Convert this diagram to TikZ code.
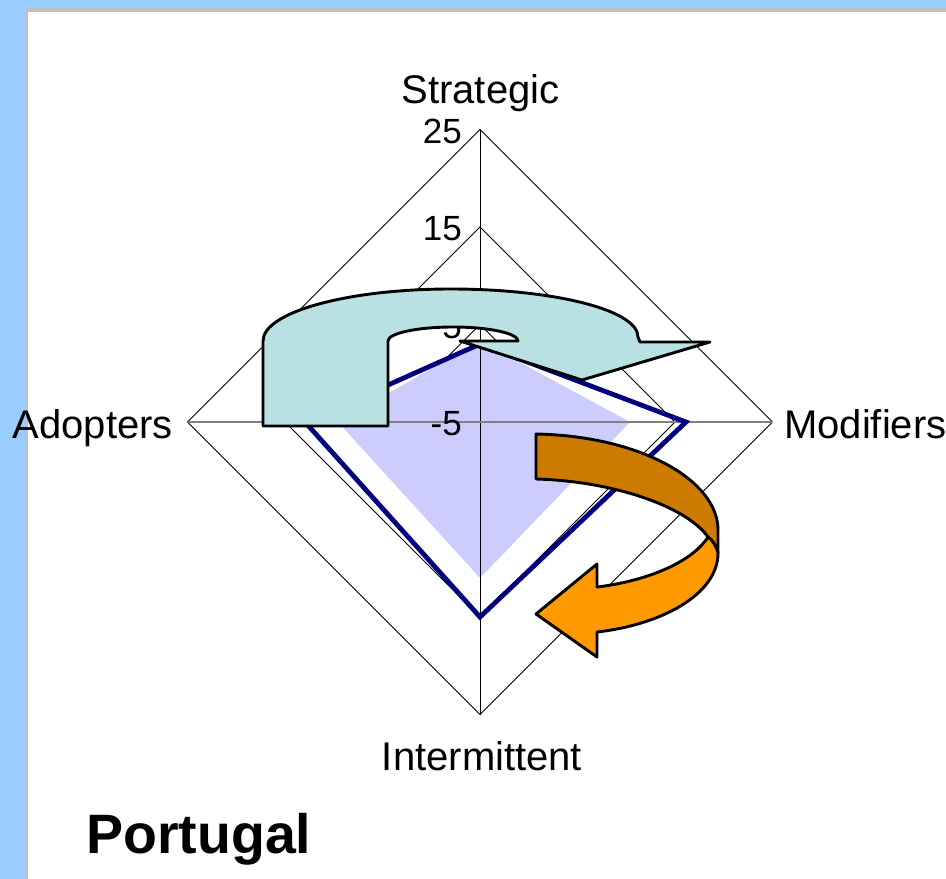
\documentclass[tikz,border=0pt]{standalone}
\usepackage{fontspec}
\setmainfont{Liberation Sans}
\definecolor{pageblue}{HTML}{99CCFF}
\definecolor{framegray}{HTML}{C0C0C0}
\definecolor{lav}{HTML}{CCCCFF}
\definecolor{navyc}{HTML}{000080}
\definecolor{tealc}{HTML}{B9E0E3}
\definecolor{darkor}{HTML}{CC7A00}
\definecolor{brightor}{HTML}{FF9900}
\definecolor{axgray}{HTML}{808080}
\begin{document}
\begin{tikzpicture}[x=1pt,y=-1pt,
  ring/.style={draw=black, line width=0.9pt},
  axisv/.style={draw=black, line width=1pt},
  axish/.style={draw=axgray, line width=1.6pt},
  series/.style={draw=navyc, line width=4.8pt, line join=miter},
  lbl/.style={font=\fontsize{40}{48}\selectfont, inner sep=0pt},
  num/.style={font=\fontsize{35}{40}\selectfont, inner sep=0pt, anchor=base east},
  shapeline/.style={draw=black, line width=2.9pt, line join=round},
]
\useasboundingbox (0,0) rectangle (946,879);
% page background and frame
\fill[pageblue] (0,0) rectangle (946,879);
\fill[framegray] (26,7) rectangle (946,879);
\fill[white] (28,12) rectangle (946,879);

\coordinate (c) at (480,422);
% rings
\foreach \r in {97.5,195,292.5}{
  \draw[ring] ([yshift=\r pt]c) -- ([xshift=\r pt]c) -- ([yshift=-\r pt]c) -- ([xshift=-\r pt]c) -- cycle;
}
% filled series
\fill[lav] (480,341) -- (630,422) -- (480,578) -- (338,422) -- cycle;
% axes
\coordinate (top) at (480,129.5);
\coordinate (bot) at (480,714.5);
\coordinate (lft) at (187.5,422);
\coordinate (rgt) at (772.5,422);
\draw[axisv] (top) -- (bot);
\draw[axish] (lft) -- (rgt);
% line series
\draw[series] (480,344) -- (686,422) -- (480,617) -- (305,422) -- cycle;

% value labels
\node[num] (v25) at (462,143) {25};
\node[num] (v15) at (462,240) {15};
\node[num] (v5) at (462,338) {5};
\node[num] (vm5) at (462,435) {-5};

% teal U-turn arrow
\filldraw[shapeline, fill=tealc]
  (263,426) -- (388,426) -- (388,341)
  .. controls (388,333.3) and (417.1,327) .. (453,327)
  .. controls (488.9,327) and (518,333.3) .. (518,341)
  -- (460,341) -- (582,380) -- (710,342) -- (640,342) -- (638,337)
  .. controls (638,310) and (554.1,289) .. (450.5,289)
  .. controls (346.9,289) and (263,312.3) .. (263,341) -- cycle;

% orange curved arrow: back part
\filldraw[shapeline, fill=darkor]
  (536,434) .. controls (640,436) and (718,480) .. (718,530) -- (718,553)
  .. controls (716,545) and (712,540) .. (708,537)
  .. controls (685,505) and (610,481) .. (536,479) -- cycle;
% orange curved arrow: front part
\filldraw[shapeline, fill=brightor]
  (708,537) .. controls (690,565) and (640,582) .. (597,587)
  -- (597,564) -- (536,614) -- (597,657) -- (597,632)
  .. controls (660,625) and (718,595) .. (718,553)
  .. controls (716,545) and (712,540) .. (708,537) -- cycle;

% axis captions
\node[lbl, anchor=base] (strat) at (480.5,103) {Strategic};
\node[lbl, anchor=base east] (adopt) at (173,438) {Adopters};
\node[lbl, anchor=base west] (modif) at (784,438) {Modifiers};
\node[lbl, anchor=base] (inter) at (482,770) {Intermittent};
\node[font=\fontsize{55.5}{66}\selectfont\bfseries, inner sep=0pt, anchor=base west] (title) at (86,853) {Portugal};
\end{tikzpicture}
\end{document}
